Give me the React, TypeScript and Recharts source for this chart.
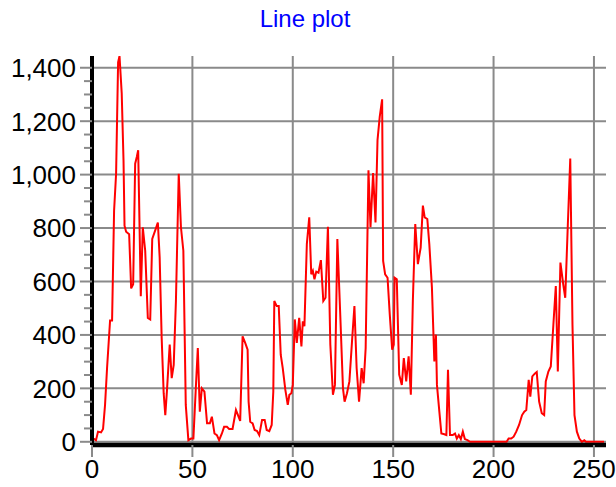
import { LineChart, Line, XAxis, YAxis, CartesianGrid } from "recharts";

// sample positions and measured values
const xs = [
  0, 2, 3, 4.5, 5.5, 6.5, 7.5, 9, 10, 11, 12, 13, 13.7, 14.8, 15.7, 16.2, 17, 18.5, 19.5, 20.5,
  21.5, 22.3, 23, 24.3, 25.3, 26.5, 27.8, 29, 30, 31.7, 32.8, 33.7, 34.7, 35.7, 36.5, 37.3, 38.7, 39.7, 40.7, 41.8,
  43.2, 44.3, 45.5, 46.7, 48, 49.3, 50.5, 51.7, 52.7, 53.7, 54.7, 56, 57.3, 58.7, 59.7, 61, 62.2, 63.3, 64.7, 65.8,
  67.2, 68.3, 70, 71.7, 72.7, 73.8, 75, 76.3, 77.5, 78, 78.8, 80, 81, 82.2, 83.3, 84.7, 86, 87, 88.3, 89.5,
  90.3, 90.8, 92, 93, 94, 95, 96.3, 97.5, 98.3, 99.3, 100, 101, 102, 103.2, 104.3, 105, 105.8, 107, 108.2, 109.2,
  110, 110.8, 111.7, 112.8, 114, 115.2, 116.3, 117.5, 118.7, 120, 121, 122.2, 123.7, 125, 125.8, 127, 128.2, 129.5, 130.7, 131.8,
  133, 134.3, 135.3, 136.3, 137.7, 138.7, 140, 141.2, 142.2, 143.3, 144.5, 145, 146, 147.2, 148.3, 149.5, 150.3, 150.7, 151.8, 153,
  154.3, 155.3, 156.5, 157.7, 158.8, 159.8, 161, 162.3, 163.7, 164.8, 165.7, 167, 168, 169.3, 170.5, 171.3, 171.8, 173, 174, 175.5,
  176.5, 177.3, 178.3, 179.7, 180.8, 181.7, 182.7, 183.7, 184.7, 185.7, 187, 188.3, 195, 200, 206.5, 207.5, 208.8, 210, 211.3, 212.7,
  214.2, 215.3, 216.3, 217.5, 218.3, 219.3, 220.5, 221.5, 222.7, 224, 225.2, 226, 227.3, 228.5, 229.8, 231, 232, 233.3, 234.7, 235.7,
  237, 238.2, 239.3, 240.3, 241.5, 242.7, 244, 245.2, 246, 250, 255,
];
const ys = [
  15, 6, 38, 35, 48, 138, 276, 454, 454, 865, 1003, 1420, 1444, 1304, 1053, 809, 786, 777, 574, 590,
  1041, 1066, 1091, 545, 803, 715, 464, 458, 759, 796, 821, 690, 389, 182, 100, 188, 364, 238, 288, 527,
  1003, 803, 715, 138, 6, 12, 12, 200, 351, 113, 200, 188, 69, 69, 94, 31, 25, 6, 31, 56,
  56, 48, 48, 119, 100, 78, 395, 370, 345, 150, 75, 69, 44, 40, 25, 82, 82, 44, 40, 63,
  188, 527, 508, 508, 326, 276, 194, 138, 176, 182, 213, 458, 370, 464, 357, 451, 433, 740, 840, 627,
  640, 608, 637, 633, 680, 527, 539, 805, 364, 176, 213, 759, 464, 200, 150, 182, 226, 376, 508, 276,
  150, 276, 219, 351, 1016, 803, 1006, 821, 1129, 1216, 1282, 677, 627, 614, 477, 345, 364, 614, 608, 251,
  213, 313, 226, 320, 176, 527, 815, 665, 727, 884, 840, 834, 740, 577, 301, 401, 213, 113, 31, 28,
  25, 270, 25, 25, 31, 12, 25, 10, 38, 10, 6, 0, 0, 0, 0, 12, 12, 19, 38, 63,
  100, 113, 119, 232, 169, 245, 255, 261, 150, 107, 100, 226, 263, 282, 439, 583, 263, 671, 589, 539,
  815, 1060, 439, 100, 38, 12, 0, 6, 0, 0, 0,
];

const xTicks = [0, 50, 100, 150, 200, 250];
const yMajor = [0, 200, 400, 600, 800, 1000, 1200, 1400];
const yAll = [
  0, 50, 100, 150, 200, 250, 300, 350, 400, 450, 500, 550, 600, 650, 700, 750,
  800, 850, 900, 950, 1000, 1050, 1100, 1150, 1200, 1250, 1300, 1350, 1400,
];

const data = xs.map((x, i) => ({ x, y: ys[i] }));

const FONT = "'Liberation Sans', Arial, sans-serif";
const GRID = "#8a8a8a";

const fmt = (n: number) => n.toLocaleString("en-US");

// left axis tick: long tick + label on majors, short tick on minors
function YTick(props: any) {
  const { x, y, payload } = props;
  const major = payload.value % 200 === 0;
  return (
    <g>
      <line x1={x - (major ? 12 : 8)} x2={x} y1={y} y2={y} stroke={GRID} strokeWidth={2} />
      {major && (
        <text x={x - 16} y={y} dy="0.36em" textAnchor="end" fill="#000" fontSize={26} fontFamily={FONT}>
          {fmt(payload.value)}
        </text>
      )}
    </g>
  );
}

export default function App() {
  return (
    <div style={{ position: "absolute", left: 0, top: 0, width: 616, height: 487, background: "#fff" }}>
      <div
        style={{
          position: "absolute",
          left: 0,
          top: 5,
          width: 610,
          textAlign: "center",
          color: "#0000ff",
          fontFamily: FONT,
          fontSize: 24,
        }}
      >
        Line plot
      </div>
      <LineChart width={616} height={487} data={data} margin={{ top: 56, right: 10, bottom: 0, left: 0 }}>
        <CartesianGrid
          stroke={GRID}
          strokeWidth={2}
          horizontalValues={yMajor}
          verticalValues={xTicks}
        />
        <XAxis
          dataKey="x"
          type="number"
          domain={[0, 256]}
          ticks={xTicks}
          interval={0}
          height={42}
          tickSize={12}
          tickMargin={3}
          tickLine={{ stroke: GRID, strokeWidth: 2 }}
          axisLine={{ stroke: "#000", strokeWidth: 4.5 }}
          tick={{ fill: "#000", fontSize: 26, fontFamily: FONT }}
        />
        <XAxis
          xAxisId="top"
          orientation="top"
          type="number"
          domain={[0, 256]}
          height={0}
          tick={false}
          tickLine={false}
          axisLine={{ stroke: "#000", strokeWidth: 2.5 }}
        />
        <YAxis
          type="number"
          domain={[-12, 1444]}
          allowDataOverflow
          ticks={yAll}
          interval={0}
          width={92}
          tickSize={0}
          tickMargin={0}
          tickLine={false}
          axisLine={{ stroke: "#000", strokeWidth: 4 }}
          tick={<YTick />}
        />
        <YAxis
          yAxisId="right"
          orientation="right"
          type="number"
          domain={[-12, 1444]}
          width={0}
          tick={false}
          tickLine={false}
          axisLine={{ stroke: "#000", strokeWidth: 2.5 }}
        />
        <Line
          dataKey="y"
          type="linear"
          stroke="#ff0000"
          strokeWidth={2}
          dot={false}
          isAnimationActive={false}
        />
      </LineChart>
    </div>
  );
}
